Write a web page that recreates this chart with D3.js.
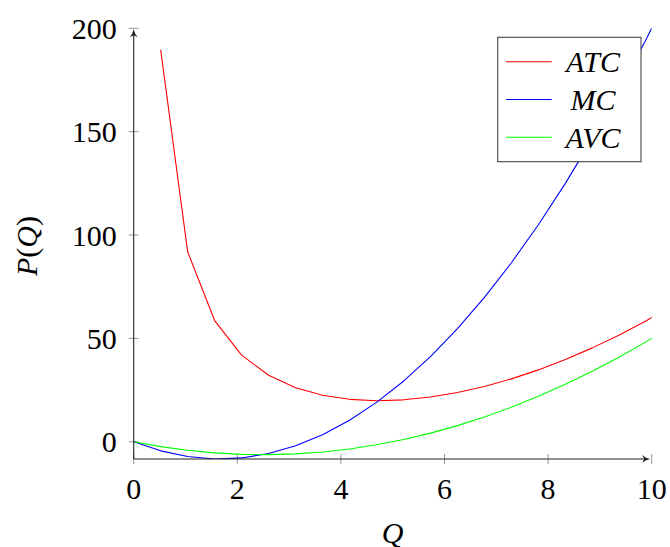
<!DOCTYPE html>
<html>
<head>
<meta charset="utf-8">
<script src="https://cdn.jsdelivr.net/npm/d3@7"></script>
<style>
  html, body { margin: 0; padding: 0; background: #fff; }
  svg text { font-family: "Liberation Serif", "DejaVu Serif", serif; }
</style>
</head>
<body>
<svg id="chart" width="670" height="547"></svg>
<script>
// Sample points (Q values where the curves have vertices)
const qValues = [0, 0.5208, 1.0417, 1.5625, 2.0833, 2.6042, 3.125, 3.6458, 4.1667, 4.6875,
  5.2083, 5.7292, 6.25, 6.7708, 7.2917, 7.8125, 8.3333, 8.8542, 9.375, 9.8958, 10.4167];
const atcValues = [null, 189.67, 91.88, 58.63, 41.92, 32.16, 26.14, 22.49, 20.53, 19.87,
  20.29, 21.63, 23.81, 26.76, 30.42, 34.77, 39.78, 45.42, 51.68, 58.55, 66.02];
const mcValues = [0, -4.39, -7.16, -8.30, -7.81, -5.70, -1.95, 3.42, 10.42, 19.04,
  29.30, 41.18, 54.69, 69.82, 86.59, 104.98, 125.0, 146.65, 169.92, 194.82, 221.35];
const avcValues = [0, -2.33, -4.12, -5.37, -6.08, -6.24, -5.86, -4.94, -3.47, -1.46,
  1.09, 4.18, 7.81, 11.99, 16.71, 21.97, 27.78, 34.13, 41.02, 48.45, 56.42];
const seriesNames = ["ATC", "MC", "AVC"];
const seriesColors = ["#ff0000", "#0000ff", "#00ff00"];
const xTicks = [0, 2, 4, 6, 8, 10];
const yTicks = [0, 50, 100, 150, 200];
const xDomain = [0, 10];
const yDomain = [-8.333, 200];

const svg = d3.select("#chart");
const x = d3.scaleLinear().domain(xDomain).range([133.7, 651.7]);
const y = d3.scaleLinear().domain(yDomain).range([459, 28.3]);

const FONT = 30;

// clip
svg.append("defs").append("clipPath").attr("id", "clip")
  .append("rect")
  .attr("x", x(xDomain[0])).attr("y", y(yDomain[1]))
  .attr("width", x(xDomain[1]) - x(xDomain[0]))
  .attr("height", y(yDomain[0]) - y(yDomain[1]));

// ticks (gray, centred on axis lines)
const tickColor = "#8c8c8c";
svg.append("g").selectAll("line").data(yTicks).join("line")
  .attr("x1", x(0) - 5).attr("x2", x(0) + 5)
  .attr("y1", d => y(d)).attr("y2", d => y(d))
  .attr("stroke", tickColor).attr("stroke-width", 0.9);
svg.append("g").selectAll("line").data(xTicks).join("line")
  .attr("x1", d => x(d)).attr("x2", d => x(d))
  .attr("y1", y(yDomain[0]) - 5).attr("y2", y(yDomain[0]) + 5)
  .attr("stroke", tickColor).attr("stroke-width", 0.9);

// tick labels
svg.append("g").selectAll("text").data(yTicks).join("text")
  .attr("x", x(0) - 17).attr("y", d => y(d) + 10.5)
  .attr("text-anchor", "end").attr("font-size", FONT).attr("fill", "#000")
  .text(d => d);
svg.append("g").selectAll("text").data(xTicks).join("text")
  .attr("x", d => x(d)).attr("y", 498.5)
  .attr("text-anchor", "middle").attr("font-size", FONT).attr("fill", "#000")
  .text(d => d);

// curves
const allSeries = [atcValues, mcValues, avcValues];
const line = d3.line()
  .defined(d => d[1] !== null)
  .x(d => x(d[0])).y(d => y(d[1]));
const plot = svg.append("g").attr("clip-path", "url(#clip)");
allSeries.forEach((vals, i) => {
  plot.append("path")
    .datum(qValues.map((q, j) => [q, vals[j]]))
    .attr("d", line)
    .attr("fill", "none")
    .attr("stroke", seriesColors[i])
    .attr("stroke-width", 1.1)
    .attr("stroke-linejoin", "round");
});

// axis lines with arrows
const axisColor = "#222";
const x0 = x(0), yb = y(yDomain[0]);
const xEnd = x(xDomain[1]) - 1.5, yEnd = y(yDomain[1]) + 1;
svg.append("line").attr("x1", x0).attr("y1", yb).attr("x2", x0).attr("y2", yEnd + 3)
  .attr("stroke", axisColor).attr("stroke-width", 1.1);
svg.append("line").attr("x1", x0).attr("y1", yb).attr("x2", xEnd - 3).attr("y2", yb)
  .attr("stroke", axisColor).attr("stroke-width", 1.1);
// arrow heads
svg.append("path")
  .attr("d", `M${x0},${yEnd} Q${x0 + 1},${yEnd + 5} ${x0 + 4},${yEnd + 8} L${x0},${yEnd + 6} L${x0 - 4},${yEnd + 8} Q${x0 - 1},${yEnd + 5} ${x0},${yEnd} Z`)
  .attr("fill", axisColor);
svg.append("path")
  .attr("d", `M${xEnd},${yb} Q${xEnd - 5},${yb - 1} ${xEnd - 8},${yb - 4} L${xEnd - 6},${yb} L${xEnd - 8},${yb + 4} Q${xEnd - 5},${yb + 1} ${xEnd},${yb} Z`)
  .attr("fill", axisColor);

// axis titles
svg.append("text")
  .attr("x", x(5)).attr("y", 543)
  .attr("text-anchor", "middle").attr("font-size", FONT).attr("font-style", "italic")
  .text("Q");
svg.append("text")
  .attr("transform", "translate(37,246) rotate(-90)")
  .attr("text-anchor", "middle").attr("font-size", FONT)
  .html('<tspan font-style="italic">P</tspan>(<tspan font-style="italic">Q</tspan>)');

// legend
const lg = svg.append("g");
lg.append("rect")
  .attr("x", 497.7).attr("y", 37.3).attr("width", 143.3).attr("height", 124.4)
  .attr("fill", "#fff").attr("stroke", "#444").attr("stroke-width", 1.1);
seriesNames.forEach((name, i) => {
  const ly = 61.7 + i * 37.8;
  lg.append("line").attr("x1", 506).attr("x2", 551.7).attr("y1", ly).attr("y2", ly)
    .attr("stroke", seriesColors[i]).attr("stroke-width", 1.1);
  lg.append("text").attr("x", 593).attr("y", ly + 10.5)
    .attr("text-anchor", "middle").attr("font-size", FONT).attr("font-style", "italic")
    .text(name);
});
</script>
</body>
</html>
